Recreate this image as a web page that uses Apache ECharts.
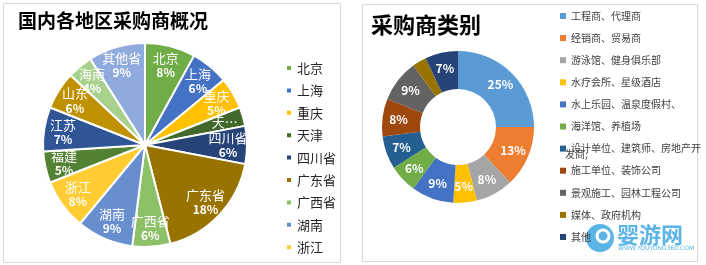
<!DOCTYPE html>
<html>
<head>
<meta charset="utf-8">
<script src="https://cdn.jsdelivr.net/npm/echarts@6/dist/echarts.min.js"></script>
<style>
  html, body { margin: 0; padding: 0; background: #fff; }
  #main { width: 706px; height: 265px; }
</style>
</head>
<body>
<div id="main"></div>
<script>
// 左图：国内各地区采购商（%）
var regionNames = ['北京', '上海', '重庆', '天津', '四川省', '广东省', '广西省', '湖南', '浙江', '福建', '江苏', '山东', '海南', '其他省'];
var regionValues = [8, 6, 5, 3, 6, 18, 6, 9, 8, 5, 7, 6, 4, 9];
var regionColors = ['#70AD47', '#4472C4', '#FFC000', '#43682B', '#264478', '#997300', '#8CC168', '#698ED0', '#FFCD33', '#548235', '#2F5597', '#BF9000', '#A9D18E', '#8FAADC'];
var regionLegend = regionNames.slice(0, 9);

// 右图：采购商类别（%）
var typeNames = ['工程商、代理商', '经销商、贸易商', '游泳馆、健身俱乐部', '水疗会所、星级酒店', '水上乐园、温泉度假村、', '海洋馆、养植场', '设计单位、建筑师、房地产开发商;', '施工单位、装饰公司', '景观施工、园林工程公司', '媒体、政府机构', '其他'];
var typeValues = [25, 13, 8, 5, 9, 6, 7, 8, 9, 3, 7];
var typeColors = ['#5B9BD5', '#ED7D31', '#A5A5A5', '#FFC000', '#4472C4', '#70AD47', '#255E91', '#9E480E', '#636363', '#997300', '#264478'];

var font = '"Noto Sans CJK SC", "Noto Sans", sans-serif';

function makeData(names, values) {
    var arr = [];
    for (var i = 0; i < names.length; i++) {
        arr.push({ name: names[i], value: values[i] });
    }
    return arr;
}

var chart = echarts.init(document.getElementById('main'));
var option = {
    backgroundColor: '#fff',
    animation: false,
    textStyle: { fontFamily: font },
    title: [{
        text: '国内各地区采购商概况',
        left: 13, top: 6,
        textStyle: { fontFamily: font, fontSize: 19, fontWeight: 'bold', color: '#000' }
    }, {
        text: '采购商类别',
        left: 366, top: 9,
        textStyle: { fontFamily: font, fontSize: 22, fontWeight: 'bold', color: '#000' }
    }],
    legend: [{
        data: regionLegend,
        orient: 'vertical',
        left: 280, top: 56,
        itemWidth: 6, itemHeight: 6,
        itemGap: 8.4,
        icon: 'rect',
        selectedMode: false,
        textStyle: { fontFamily: font, fontSize: 13, lineHeight: 14, color: '#262626' }
    }, {
        data: typeNames,
        orient: 'vertical',
        left: 555, top: 5,
        itemWidth: 6, itemHeight: 6,
        itemGap: 10.1,
        itemTextGap: 4,
        icon: 'rect',
        selectedMode: false,
        formatter: function (name) {
            return name.length > 13 ? name.slice(0, 13) : name;
        },
        textStyle: { fontFamily: font, fontSize: 10, lineHeight: 12, color: '#404040' }
    }],
    series: [{
        type: 'pie',
        center: [145, 145],
        radius: [0, 102],
        color: regionColors,
        itemStyle: { borderColor: '#fff', borderWidth: 2 },
        label: { show: false },
        labelLine: { show: false },
        data: makeData(regionNames, regionValues)
    }, {
        // 透明环，只用来把标签放到外侧
        type: 'pie',
        center: [145, 145],
        radius: [58, 102],
        silent: true,
        avoidLabelOverlap: false,
        minShowLabelAngle: 0,
        labelLayout: { hideOverlap: false },
        legendHoverLink: false,
        itemStyle: { color: 'rgba(0,0,0,0)' },
        label: {
            show: true,
            position: 'inside',
            overflow: 'none',
            formatter: function (p) {
                if (p.name === '天津') return '{n|天…}';
                return '{n|' + p.name + '}\n{p|' + p.value + '%}';
            },
            rich: {
                n: { fontFamily: font, fontSize: 13, lineHeight: 15, color: '#fff' },
                p: { fontFamily: font, fontSize: 12, lineHeight: 14, color: '#fff', fontWeight: 'bold' }
            }
        },
        labelLine: { show: false },
        data: makeData(regionNames, regionValues).map(function (d) {
            d.itemStyle = { color: 'rgba(0,0,0,0)' };
            return d;
        })
    }, {
        type: 'pie',
        center: [458, 127],
        radius: [38, 76],
        avoidLabelOverlap: false,
        color: typeColors,
        label: {
            show: true,
            position: 'inside',
            formatter: '{c}%',
            fontFamily: font,
            fontSize: 12,
            fontWeight: 'bold',
            color: '#fff'
        },
        labelLine: { show: false },
        data: makeData(typeNames, typeValues)
    }],
    graphic: [{
        type: 'rect', silent: true,
        shape: { x: 3.5, y: 3.5, width: 337, height: 259 },
        style: { fill: 'none', stroke: '#D9D9D9', lineWidth: 1 }
    }, {
        type: 'rect', silent: true,
        shape: { x: 362.5, y: 4.5, width: 335, height: 257 },
        style: { fill: 'none', stroke: '#D9D9D9', lineWidth: 1 }
    }, {
        type: 'text', silent: true,
        left: 565, top: 149,
        style: { text: '发商;', font: '10px ' + font, fill: '#404040' }
    }, {
        type: 'circle', silent: true,
        shape: { cx: 600, cy: 238, r: 14 },
        style: { fill: '#5AB4E5' }
    }, {
        type: 'circle', silent: true,
        shape: { cx: 603, cy: 236, r: 6 },
        style: { fill: 'none', stroke: '#fff', lineWidth: 3 }
    }, {
        type: 'text', silent: true,
        left: 617, top: 224,
        style: { text: '婴游网', font: 'bold 22px ' + font, fill: '#5AB4E5' }
    }, {
        type: 'text', silent: true,
        left: 618, top: 245,
        style: { text: 'WWW.YOUYONG360.COM', font: '6px "DejaVu Sans", sans-serif', fill: '#5AB4E5' }
    }]
};
chart.setOption(option);
</script>
</body>
</html>
